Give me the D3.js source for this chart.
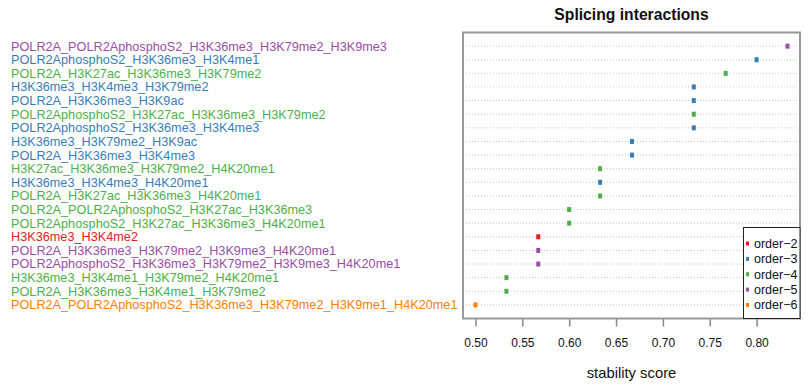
<!DOCTYPE html>
<html>
<head>
<meta charset="utf-8">
<script src="https://cdn.jsdelivr.net/npm/d3@7"></script>
<style>
  body { margin: 0; background: #fff; }
  text { font-family: "Liberation Sans", Arial, Helvetica, sans-serif; }
</style>
</head>
<body>
<div id="chart"></div>
<script>
// interaction names, top to bottom
const labels = [
  "POLR2A_POLR2AphosphoS2_H3K36me3_H3K79me2_H3K9me3",
  "POLR2AphosphoS2_H3K36me3_H3K4me1",
  "POLR2A_H3K27ac_H3K36me3_H3K79me2",
  "H3K36me3_H3K4me3_H3K79me2",
  "POLR2A_H3K36me3_H3K9ac",
  "POLR2AphosphoS2_H3K27ac_H3K36me3_H3K79me2",
  "POLR2AphosphoS2_H3K36me3_H3K4me3",
  "H3K36me3_H3K79me2_H3K9ac",
  "POLR2A_H3K36me3_H3K4me3",
  "H3K27ac_H3K36me3_H3K79me2_H4K20me1",
  "H3K36me3_H3K4me3_H4K20me1",
  "POLR2A_H3K27ac_H3K36me3_H4K20me1",
  "POLR2A_POLR2AphosphoS2_H3K27ac_H3K36me3",
  "POLR2AphosphoS2_H3K27ac_H3K36me3_H4K20me1",
  "H3K36me3_H3K4me2",
  "POLR2A_H3K36me3_H3K79me2_H3K9me3_H4K20me1",
  "POLR2AphosphoS2_H3K36me3_H3K79me2_H3K9me3_H4K20me1",
  "H3K36me3_H3K4me1_H3K79me2_H4K20me1",
  "POLR2A_H3K36me3_H3K4me1_H3K79me2",
  "POLR2A_POLR2AphosphoS2_H3K36me3_H3K79me2_H3K9me1_H4K20me1"
];

const scores = [
  0.833, 0.800, 0.767, 0.733, 0.733, 0.733, 0.733, 0.667, 0.667, 0.633,
  0.633, 0.633, 0.600, 0.600, 0.567, 0.567, 0.567, 0.533, 0.533, 0.500
];

const orders = [5, 3, 4, 3, 3, 4, 3, 3, 3, 4, 3, 4, 4, 4, 2, 5, 5, 4, 4, 6];

const legendOrders = [2, 3, 4, 5, 6];
const orderColors = ["#E41A1C", "#377EB8", "#4DAF4A", "#984EA3", "#FF7F00"];

const xTicks = [0.50, 0.55, 0.60, 0.65, 0.70, 0.75, 0.80];

const W = 810, H = 386;
const box = {left: 463, right: 800, top: 32.5, bottom: 318.5};

let svg = d3.select("#chart")
  .append("svg")
  .attr("width", W)
  .attr("height", H);

let color = d3.scaleOrdinal().domain(legendOrders).range(orderColors);

// R style 4% padding round the data range
let lo = d3.min(scores), hi = d3.max(scores);
let pad = (hi - lo) * 0.04;
let x = d3.scaleLinear()
  .domain([lo - pad, hi + pad])
  .range([box.left, box.right]);

let y = d3.scalePoint()
  .domain(d3.range(labels.length))
  .range([box.top, box.bottom])
  .padding(1);

// dotted guide lines
svg.append("g")
  .selectAll("line")
  .data(labels)
  .join("line")
  .attr("x1", box.left)
  .attr("x2", box.right)
  .attr("y1", (d, i) => y(i))
  .attr("y2", (d, i) => y(i))
  .attr("stroke", "#c8c8c8")
  .attr("stroke-width", 1)
  .attr("stroke-dasharray", "1,2");

// points
svg.append("g")
  .selectAll("rect")
  .data(scores)
  .join("rect")
  .attr("x", d => x(d) - 2)
  .attr("y", (d, i) => y(i) - 2.5)
  .attr("width", 4)
  .attr("height", 5)
  .attr("fill", (d, i) => color(orders[i]));

// row labels on the left
svg.append("g")
  .selectAll("text")
  .data(labels)
  .join("text")
  .attr("x", 11)
  .attr("y", (d, i) => y(i))
  .attr("dy", "0.35em")
  .attr("font-size", "12.7px")
  .attr("fill", (d, i) => color(orders[i]))
  .text(d => d);

// x axis
let axis = svg.append("g")
  .attr("transform", `translate(0,${box.bottom})`)
  .call(d3.axisBottom(x)
    .tickValues(xTicks)
    .tickFormat(d3.format(".2f"))
    .tickSize(8)
    .tickPadding(12));
axis.select(".domain").remove();
axis.selectAll(".tick line")
  .attr("stroke", "#888")
  .attr("stroke-width", 1.5);
axis.selectAll(".tick text")
  .attr("font-size", "12px")
  .attr("font-family", "Liberation Sans, Arial, sans-serif")
  .attr("fill", "#111");

// frame
svg.append("rect")
  .attr("x", box.left)
  .attr("y", box.top)
  .attr("width", box.right - box.left)
  .attr("height", box.bottom - box.top)
  .attr("fill", "none")
  .attr("stroke", "#999")
  .attr("stroke-width", 2);

// title and axis label
svg.append("text")
  .attr("x", (box.left + box.right) / 2)
  .attr("y", 20)
  .attr("text-anchor", "middle")
  .attr("font-size", "15.7px")
  .attr("font-weight", "bold")
  .attr("fill", "#111")
  .text("Splicing interactions");

svg.append("text")
  .attr("x", (box.left + box.right) / 2)
  .attr("y", 378)
  .attr("text-anchor", "middle")
  .attr("font-size", "14.8px")
  .attr("fill", "#111")
  .text("stability score");

// legend
let lg = svg.append("g");
lg.append("rect")
  .attr("x", 743.5)
  .attr("y", 227.5)
  .attr("width", box.right - 743.5)
  .attr("height", box.bottom - 227.5)
  .attr("fill", "#fff")
  .attr("stroke", "#222")
  .attr("stroke-width", 1);

let ly = d3.scaleLinear().domain([0, 4]).range([243.5, 305]);
lg.selectAll("rect.key")
  .data(legendOrders)
  .join("rect")
  .attr("class", "key")
  .attr("x", 746)
  .attr("y", (d, i) => ly(i) - 2)
  .attr("width", 3)
  .attr("height", 4)
  .attr("fill", d => color(d));

lg.selectAll("text")
  .data(legendOrders)
  .join("text")
  .attr("x", 754)
  .attr("y", (d, i) => ly(i))
  .attr("dy", "0.35em")
  .attr("font-size", "12.5px")
  .attr("fill", "#111")
  .text(d => "order\u2212" + d);
</script>
</body>
</html>
